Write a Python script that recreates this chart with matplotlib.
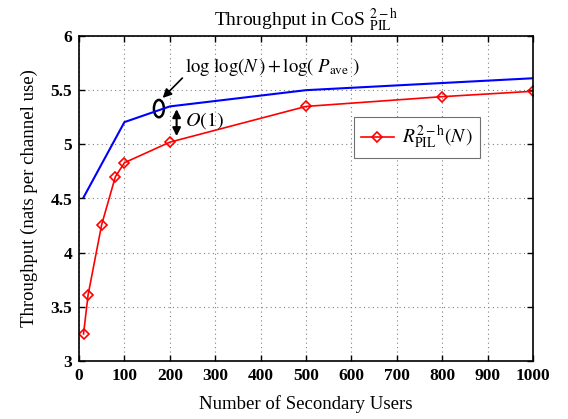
import matplotlib
matplotlib.use("Agg")
import matplotlib.pyplot as plt
from matplotlib.patches import Ellipse

plt.rcParams['font.family'] = ['Liberation Serif', 'DejaVu Serif']
plt.rcParams['mathtext.fontset'] = 'stix'

users_red = [10, 20, 50, 80, 100, 200, 500, 800, 1000]
rate_red = [3.25, 3.61, 4.26, 4.70, 4.83, 5.02, 5.35, 5.44, 5.49]
users_blue = [10, 100, 200, 500, 1000]
rate_blue = [4.51, 5.205, 5.35, 5.50, 5.61]
xticks = [0, 100, 200, 300, 400, 500, 600, 700, 800, 900, 1000]
yticks = [3, 3.5, 4, 4.5, 5, 5.5, 6]
ytick_labels = ['3', '3.5', '4', '4.5', '5', '5.5', '6']

fig = plt.figure(figsize=(5.68, 4.19), dpi=100)
ax = fig.add_axes([79/568, 1-361/419, (533-79)/568, (361-36)/419])

ax.plot(users_blue, rate_blue, color='#0000ff', lw=1.5)
ax.plot(users_red, rate_red, color='#ff0000', lw=1.2, marker='D', ms=5,
        mfc='none', mec='#ff0000', mew=1.2,
        label=r'$R_{\mathrm{PIL}}^{2-\mathrm{h}}(N\,)$')

ax.set_xlim(0, 1000)
ax.set_ylim(3, 6)
ax.set_xticks(xticks)
ax.set_yticks(yticks)
ax.set_yticklabels(ytick_labels)
ax.grid(True, linestyle=(0, (1, 3)), color='#808080', lw=0.8)
ax.tick_params(direction='in', top=True, right=True, length=4, width=1,
               labelsize=12.5, pad=5)
for lab in ax.get_xticklabels() + ax.get_yticklabels():
    lab.set_fontweight('bold')
for s in ax.spines.values():
    s.set_linewidth(1.2)

ax.set_xlabel('Number of Secondary Users', fontsize=13.5, labelpad=8)
ax.set_ylabel('Throughput (nats per channel use)', fontsize=13.5, labelpad=9)
ax.set_title(r'Throughput in CoS $_{\mathrm{PIL}}^{2-\mathrm{h}}$', fontsize=14, pad=7)

ax.add_patch(Ellipse((176, 5.33), 22, 0.16, fill=False, lw=1.8, color='black'))
ax.annotate('', xy=(180, 5.41), xytext=(232, 5.63),
            arrowprops=dict(arrowstyle='-|>', color='black', lw=1.2, mutation_scale=13))
ax.text(233, 5.71, r'$\log\,\log(N\,) + \log(\ P_{\mathrm{ave}}\ )$', fontsize=13.5,
        va='center', ha='left')
ax.annotate('', xy=(215, 5.05), xytext=(215, 5.35),
            arrowprops=dict(arrowstyle='<|-|>', color='black', lw=1.5, mutation_scale=12))
ax.text(234, 5.22, r'$O(1)$', fontsize=14.5, va='center', ha='left')

leg = ax.legend(loc='upper left', bbox_to_anchor=((354-79)/454, 1-(117-36)/325),
                borderaxespad=0, fontsize=14, frameon=True, fancybox=False,
                edgecolor='#707070', borderpad=0.35, handlelength=1.7,
                handletextpad=0.4, framealpha=1)
leg.get_frame().set_linewidth(0.8)

fig.savefig('out.png', dpi=100)
